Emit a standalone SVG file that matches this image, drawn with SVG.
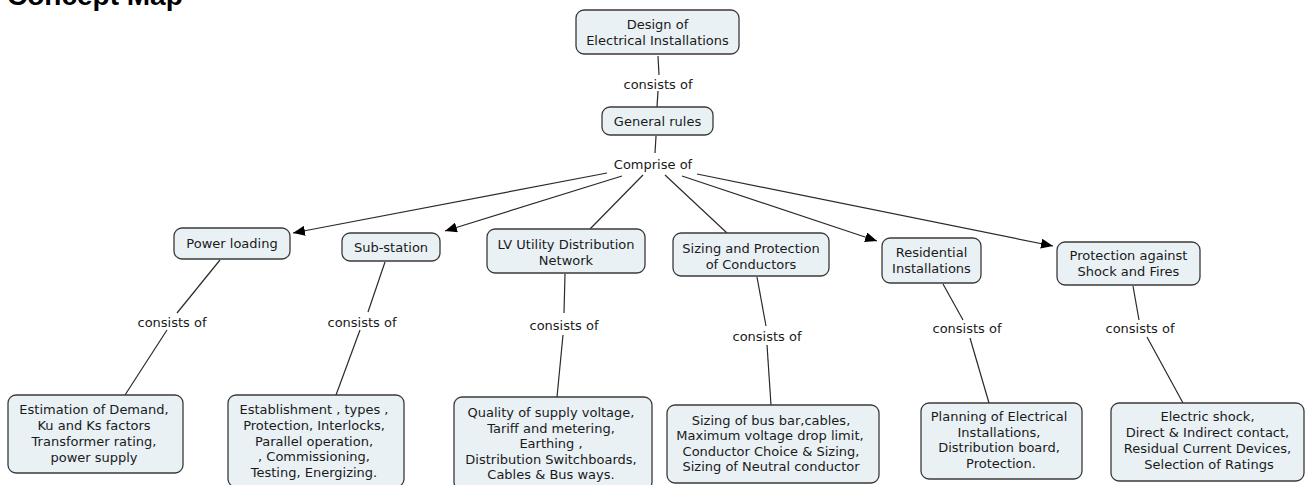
<svg xmlns="http://www.w3.org/2000/svg" width="1305" height="485" viewBox="0 0 1305 485">
<style>
.node rect{fill:#e9f1f5;stroke:#3a3a3a;stroke-width:1.3}
text{font-family:"DejaVu Sans",Verdana,sans-serif;font-size:13px;fill:#1a1a1a;text-anchor:middle}
.title{font-family:"Liberation Sans",Arial,sans-serif;font-weight:bold;font-size:28px;text-anchor:start;fill:#000}
.conn line{stroke:#2a2a2a;stroke-width:1.2}
</style>
<defs>
<marker id="arr" viewBox="0 0 12 10" refX="12" refY="5" markerWidth="12" markerHeight="10" markerUnits="userSpaceOnUse" orient="auto">
<path d="M0,0 L12,5 L0,10 z" fill="#000"/>
</marker>
</defs>
<rect width="1305" height="485" fill="#fff"/>
<text class="title" x="7" y="5">Concept Map</text>

<g id="connectors" class="conn">
<line x1="658" y1="56" x2="659" y2="75"/>
<line x1="658" y1="91" x2="657" y2="107"/>
<line x1="656" y1="136" x2="655" y2="153"/>
<line x1="607" y1="173" x2="293" y2="233" marker-end="url(#arr)"/>
<line x1="622" y1="176" x2="445" y2="231" marker-end="url(#arr)"/>
<line x1="643" y1="175" x2="590" y2="229"/>
<line x1="665" y1="175" x2="727" y2="233"/>
<line x1="682" y1="176" x2="877" y2="241" marker-end="url(#arr)"/>
<line x1="697" y1="174" x2="1053" y2="246" marker-end="url(#arr)"/>
<line x1="220" y1="260" x2="177" y2="313"/>
<line x1="167" y1="330" x2="125" y2="395"/>
<line x1="385" y1="262" x2="368" y2="312"/>
<line x1="360" y1="330" x2="336" y2="395"/>
<line x1="565" y1="274" x2="564" y2="313"/>
<line x1="563" y1="335" x2="557" y2="397"/>
<line x1="757" y1="277" x2="766" y2="326"/>
<line x1="767" y1="345" x2="771" y2="405"/>
<line x1="943" y1="284" x2="963" y2="320"/>
<line x1="970" y1="338" x2="989" y2="403"/>
<line x1="1133" y1="286" x2="1139" y2="320"/>
<line x1="1147" y1="337" x2="1183" y2="403"/>
</g>

<g id="labels">
<text x="658" y="88.5">consists of</text>
<text x="653" y="168.5">Comprise of</text>
<text x="172" y="326.5">consists of</text>
<text x="362" y="326.5">consists of</text>
<text x="564" y="329.5">consists of</text>
<text x="767" y="340.5">consists of</text>
<text x="967" y="332.5">consists of</text>
<text x="1140" y="332.5">consists of</text>
</g>

<g id="n-design" class="node"><rect x="576" y="10" width="163" height="44" rx="8"/>
<text x="657.5" y="28.5">Design of</text><text x="657.5" y="45">Electrical Installations</text></g>
<g id="n-general" class="node"><rect x="602" y="107" width="111" height="28" rx="8"/>
<text x="657.5" y="125.5">General rules</text></g>

<g id="n-power" class="node"><rect x="174" y="228" width="116" height="31" rx="8"/>
<text x="232" y="247.5">Power loading</text></g>
<g id="n-sub" class="node"><rect x="342" y="233" width="98" height="28" rx="8"/>
<text x="391" y="251.5">Sub-station</text></g>
<g id="n-lv" class="node"><rect x="487" y="229" width="158" height="44" rx="8"/>
<text x="566" y="248.5">LV Utility Distribution</text><text x="566" y="264.5">Network</text></g>
<g id="n-sizing" class="node"><rect x="673" y="233" width="156" height="43" rx="8"/>
<text x="751" y="253">Sizing and Protection</text><text x="751" y="268.5">of Conductors</text></g>
<g id="n-res" class="node"><rect x="882" y="238" width="99" height="45" rx="8"/>
<text x="931.5" y="257">Residential</text><text x="931.5" y="273">Installations</text></g>
<g id="n-prot" class="node"><rect x="1057" y="242" width="143" height="43" rx="8"/>
<text x="1128.5" y="259.5">Protection against</text><text x="1128.5" y="276">Shock and Fires</text></g>

<g id="n-est" class="node"><rect x="8" y="395" width="175" height="78" rx="8"/>
<text x="94" y="414">Estimation of Demand,</text><text x="94" y="430">Ku and Ks factors</text><text x="94" y="446">Transformer rating,</text><text x="94" y="461.5">power supply</text></g>
<g id="n-estab" class="node"><rect x="228" y="395" width="176" height="92" rx="8"/>
<text x="314" y="413.5">Establishment , types ,</text><text x="314" y="429.5">Protection, Interlocks,</text><text x="314" y="445.5">Parallel operation,</text><text x="314" y="461">, Commissioning,</text><text x="314" y="476.5">Testing, Energizing.</text></g>
<g id="n-quality" class="node"><rect x="454" y="397" width="198" height="93" rx="8"/>
<text x="551" y="417">Quality of supply voltage,</text><text x="551" y="432.5">Tariff and metering,</text><text x="551" y="448">Earthing ,</text><text x="551" y="463.5">Distribution Switchboards,</text><text x="551" y="479">Cables &amp; Bus ways.</text></g>
<g id="n-bus" class="node"><rect x="667" y="405" width="212" height="78" rx="8"/>
<text x="771" y="424.5">Sizing of bus bar,cables,</text><text x="770" y="440">Maximum voltage drop limit,</text><text x="771" y="455.5">Conductor Choice &amp; Sizing,</text><text x="771" y="471">Sizing of Neutral conductor</text></g>
<g id="n-plan" class="node"><rect x="921" y="403" width="161" height="76" rx="8"/>
<text x="999" y="421">Planning of Electrical</text><text x="999" y="436.5">Installations,</text><text x="999" y="452">Distribution board,</text><text x="1001" y="467.5">Protection.</text></g>
<g id="n-shock" class="node"><rect x="1111" y="403" width="193" height="78" rx="8"/>
<text x="1207.5" y="421">Electric shock,</text><text x="1207.5" y="437">Direct &amp; Indirect contact,</text><text x="1207.5" y="453">Residual Current Devices,</text><text x="1209" y="468.5">Selection of Ratings</text></g>
</svg>
